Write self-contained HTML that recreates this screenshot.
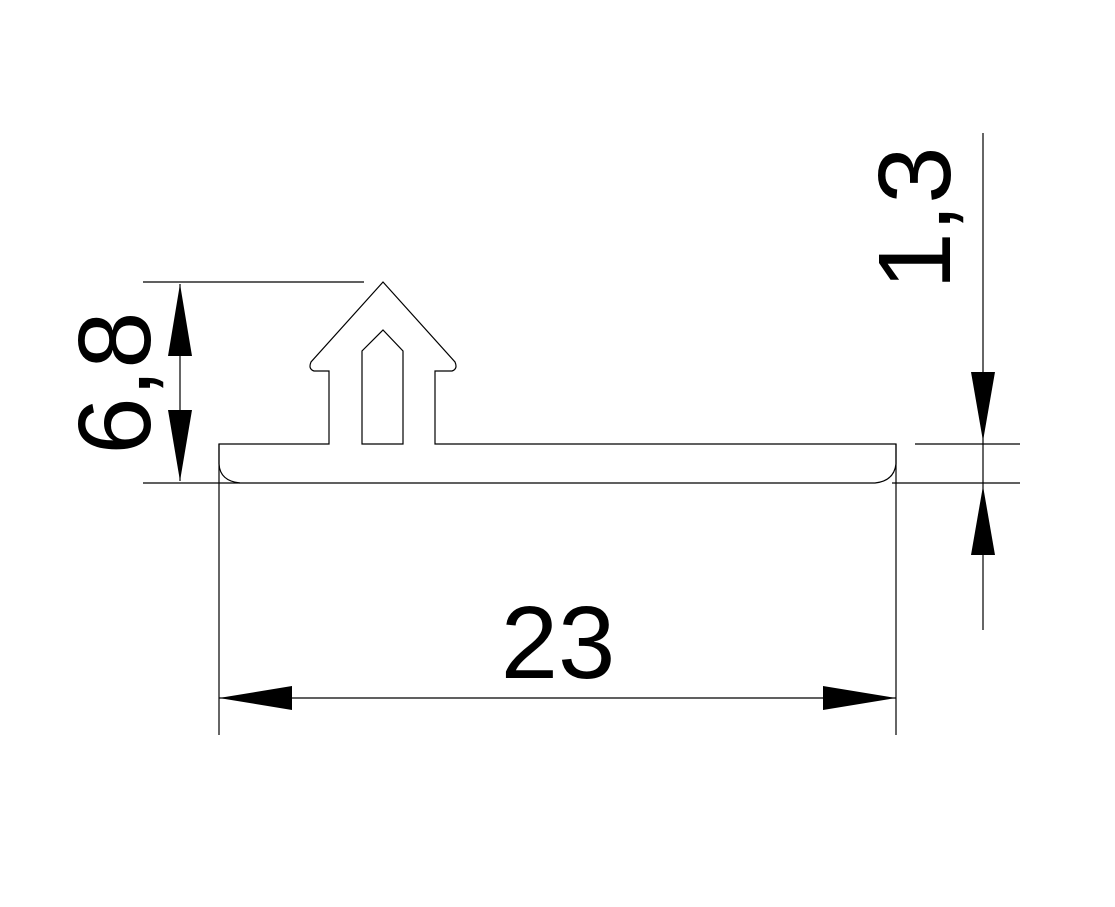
<!DOCTYPE html>
<html><head><style>html,body{margin:0;padding:0;background:#fff}</style></head>
<body>
<svg width="1115" height="902" viewBox="0 0 1115 902" xmlns="http://www.w3.org/2000/svg">
<g fill="none" stroke="#000" stroke-width="1.2">
<!-- profile -->
<path d="M219,444 L219,464 Q220,481 240,483 L875,483 Q894,481 896,464 L896,444 L435,444 L435,371 L452,371 Q458,369 455,362 L383,282 L311,362 Q308,369 314,371 L329,371 L329,444 Z"/>
<path d="M362,444 L362,351 L383,330 L403,351 L403,444 Z"/>
<!-- extension lines -->
<line x1="143" y1="282" x2="364" y2="282"/>
<line x1="143" y1="483" x2="240" y2="483"/>
<line x1="219" y1="444" x2="219" y2="735"/>
<line x1="896" y1="444" x2="896" y2="735"/>
<line x1="892" y1="483" x2="1020" y2="483"/>
<line x1="915" y1="444" x2="1020" y2="444"/>
<!-- dim lines -->
<line x1="180" y1="284" x2="180" y2="481"/>
<line x1="983" y1="133" x2="983" y2="630"/>
<line x1="219" y1="698" x2="896" y2="698"/>
</g>
<g fill="#000">
<polygon points="180,284 168,356 192,356"/>
<polygon points="180,481 168,410 192,410"/>
<polygon points="983,441 971,372 995,372"/>
<polygon points="983,486 971,555 995,555"/>
<polygon points="219,698 292,686 292,710"/>
<polygon points="896,698 823,686 823,710"/>
</g>
<g font-family="Liberation Sans, sans-serif" font-size="103" fill="#000">
<text x="558" y="678" text-anchor="middle">23</text>
<text transform="translate(150,383) rotate(-90)" text-anchor="middle">6,8</text>
<text transform="translate(950,218) rotate(-90)" text-anchor="middle">1,3</text>
</g>
</svg>
</body></html>
